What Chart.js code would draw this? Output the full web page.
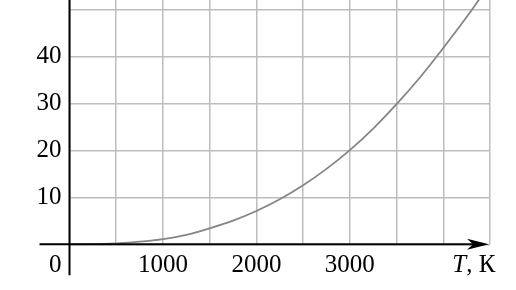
<!DOCTYPE html>
<html>
<head>
<meta charset="utf-8">
<script src="https://cdn.jsdelivr.net/npm/chart.js@4/dist/chart.umd.min.js"></script>
<style>
  html, body { margin: 0; padding: 0; background: #ffffff; }
  #wrap { width: 516px; height: 290px; }
</style>
</head>
<body>
<div id="wrap"><canvas id="c" width="516" height="290"></canvas></div>
<script>
// Data
const temperatures = [0, 250, 500, 750, 1000, 1250, 1500, 1750, 2000, 2250, 2500, 2750, 3000, 3250, 3500, 3750, 4000, 4250, 4400];
const values =       [0, 0.02, 0.2, 0.55, 1.1, 2.0, 3.4, 5.05, 7.1, 9.6, 12.6, 16.1, 20.1, 24.7, 29.9, 35.6, 41.9, 48.5, 52.7];
const xLabeledTicks = [1000, 2000, 3000];
const yGridTicks = [0, 10, 20, 30, 40, 50];
const yLabeledTicks = [10, 20, 30, 40];
const xAxisTitleItalic = 'T';
const xAxisTitleRest = ', К';
const originLabel = '0';

const FONT = '"Liberation Serif", "Times New Roman", serif';

const axesPlugin = {
  id: 'axesArrows',
  afterDatasetsDraw(chart) {
    const ctx = chart.ctx;
    const xs = chart.scales.x, ys = chart.scales.y;
    const x0 = xs.getPixelForValue(0);
    const y0 = ys.getPixelForValue(0);
    const xEnd = xs.getPixelForValue(4500) - 1;
    ctx.save();
    ctx.strokeStyle = '#000';
    ctx.fillStyle = '#000';
    ctx.lineWidth = 2;
    // x axis
    ctx.beginPath();
    ctx.moveTo(x0 - 30, y0);
    ctx.lineTo(xEnd - 8, y0);
    ctx.stroke();
    // arrow head
    ctx.beginPath();
    ctx.moveTo(xEnd, y0);
    ctx.lineTo(xEnd - 22, y0 - 5.5);
    ctx.lineTo(xEnd - 16, y0);
    ctx.lineTo(xEnd - 22, y0 + 5.5);
    ctx.closePath();
    ctx.fill();
    // y axis
    ctx.beginPath();
    ctx.moveTo(x0, 0);
    ctx.lineTo(x0, y0 + 31);
    ctx.stroke();
    // origin label
    ctx.font = '25px ' + FONT;
    ctx.textAlign = 'right';
    ctx.textBaseline = 'middle';
    ctx.fillText(originLabel, x0 - 8, y0 + 21);
    // axis title T, K
    const tx = xs.getPixelForValue(4000) + 9;
    ctx.textAlign = 'left';
    ctx.font = 'italic 25px ' + FONT;
    ctx.fillText(xAxisTitleItalic, tx, y0 + 21);
    const w = ctx.measureText(xAxisTitleItalic).width;
    ctx.font = '25px ' + FONT;
    ctx.fillText(xAxisTitleRest, tx + w, y0 + 21);
    ctx.restore();
  }
};

new Chart(document.getElementById('c'), {
  type: 'line',
  data: {
    labels: temperatures,
    datasets: [{
      data: temperatures.map((t, i) => ({ x: t, y: values[i] })),
      borderColor: '#858585',
      borderWidth: 1.8,
      pointRadius: 0,
      fill: false,
      cubicInterpolationMode: 'monotone'
    }]
  },
  options: {
    responsive: false,
    animation: false,
    layout: { padding: { left: 0, right: 26, top: 0, bottom: 0 } },
    plugins: { legend: { display: false }, tooltip: { enabled: false } },
    scales: {
      x: {
        type: 'linear',
        min: 0, max: 4500,
        border: { display: false },
        grid: { color: '#bdbdbd', lineWidth: 1.5, drawTicks: false },
        ticks: {
          stepSize: 500,
          autoSkip: false,
          maxRotation: 0,
          padding: 6,
          color: '#000',
          font: { family: FONT, size: 25 },
          callback: v => xLabeledTicks.includes(v) ? String(v) : ''
        },
        afterFit(scale) { scale.height = 45.7; scale.paddingLeft = 0; scale.paddingRight = 0; }
      },
      y: {
        min: 0, max: 52.13,
        border: { display: false },
        grid: { color: '#bdbdbd', lineWidth: 1.5, drawTicks: false },
        afterBuildTicks(scale) { scale.ticks = yGridTicks.map(v => ({ value: v })); },
        ticks: {
          stepSize: 10,
          padding: 8,
          color: '#000',
          font: { family: FONT, size: 25 },
          callback: v => yLabeledTicks.includes(v) ? String(v) : ''
        },
        afterFit(scale) { scale.width = 69.5; scale.paddingTop = 0; scale.paddingBottom = 0; }
      }
    }
  },
  plugins: [axesPlugin]
});
</script>
</body>
</html>
